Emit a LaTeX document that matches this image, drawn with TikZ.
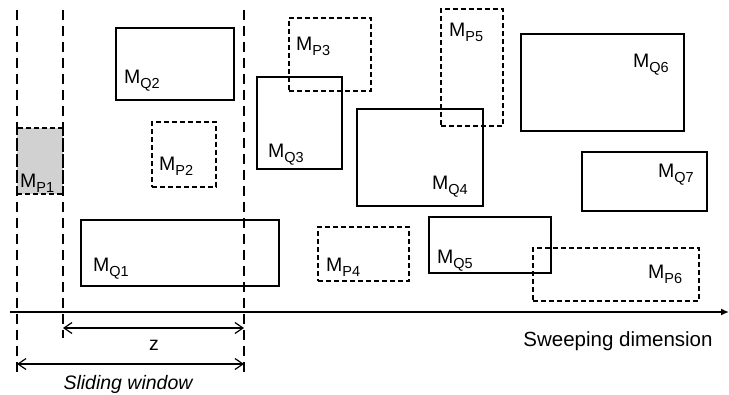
\documentclass[tikz,border=0pt]{standalone}
\usepackage{fontspec}
\setmainfont{Liberation Sans}
\usetikzlibrary{arrows.meta,fit}
\newcommand{\ML}[2]{M\raisebox{-5pt}{\fontsize{14.5}{14}\selectfont #1#2}}
\begin{document}
\begin{tikzpicture}[x=1pt,y=-1pt,
  qbox/.style={draw=black,line width=2.1pt,inner sep=0pt},
  pbox/.style={draw=black,line width=2.1pt,dash pattern=on 5pt off 3pt,inner sep=0pt},
  lbl/.style={anchor=base west,inner sep=0pt,font=\fontsize{19.5}{21}\selectfont},
  wline/.style={line width=1.2pt,dash pattern=on 10pt off 6pt},
  dim/.style={line width=1.2pt,{Straight Barb[length=8pt,width=11pt]}-{Straight Barb[length=8pt,width=11pt]}}]
\useasboundingbox (0,0) rectangle (729,394);
% boxes
\node[pbox,fill=black!18,fit={(17,128) (63,194)}] (P1) {};
\node[qbox,fit={(116,28) (234,100)}] (Q2) {};
\node[pbox,fit={(152,122) (216,187)}] (P2) {};
\node[qbox,fit={(81,220) (279,286)}] (Q1) {};
\node[qbox,fit={(257,77) (342,169)}] (Q3) {};
\node[pbox,fit={(289,18) (371,91)}] (P3) {};
\node[qbox,fit={(357,109) (483,206)}] (Q4) {};
\node[pbox,fit={(441,9) (503,126)}] (P5) {};
\node[pbox,fit={(318,227) (409,281)}] (P4) {};
\node[qbox,fit={(429,217) (551,273)}] (Q5) {};
\node[pbox,fit={(533,248) (699,301)}] (P6) {};
\node[qbox,fit={(521,34) (684,131)}] (Q6) {};
\node[qbox,fit={(582,152) (707,211)}] (Q7) {};
% labels
\node[lbl] (lP1) at (20,187) {\ML{P}{1}};
\node[lbl] (lQ2) at (124,83) {\ML{Q}{2}};
\node[lbl] (lP2) at (159,170) {\ML{P}{2}};
\node[lbl] (lQ1) at (93,271) {\ML{Q}{1}};
\node[lbl] (lP3) at (296,50) {\ML{P}{3}};
\node[lbl] (lQ3) at (268,157) {\ML{Q}{3}};
\node[lbl] (lP5) at (449,36) {\ML{P}{5}};
\node[lbl] (lQ4) at (432,189) {\ML{Q}{4}};
\node[lbl] (lP4) at (326,271) {\ML{P}{4}};
\node[lbl] (lQ5) at (437,263) {\ML{Q}{5}};
\node[lbl] (lQ6) at (633,67) {\ML{Q}{6}};
\node[lbl] (lQ7) at (658,177) {\ML{Q}{7}};
\node[lbl] (lP6) at (648,278) {\ML{P}{6}};
% window lines
\coordinate (w1t) at (17,10);  \coordinate (w1b) at (17,372);
\coordinate (w2t) at (63,10);  \coordinate (w2b) at (63,338);
\coordinate (w3t) at (244,10); \coordinate (w3b) at (244,372);
\draw[wline] (w1t) -- (w1b);
\draw[wline] (w2t) -- (w2b);
\draw[wline] (w3t) -- (w3b);
% axis
\coordinate (a0) at (10,312); \coordinate (a1) at (729,312);
\draw[line width=2pt,-{Latex[length=8pt,width=7pt]}] (a0) -- (a1);
\node[anchor=base,inner sep=0pt,font=\fontsize{20.5}{22}\selectfont] (sweep) at (618,346) {Sweeping dimension};
% dimensions
\coordinate (z0) at (63,328); \coordinate (z1) at (244,328);
\draw[dim] (z0) -- (z1);
\node[anchor=base,inner sep=0pt,font=\fontsize{19.5}{21}\selectfont] (zl) at (154,350) {z};
\coordinate (s0) at (17,364); \coordinate (s1) at (244,364);
\draw[dim] (s0) -- (s1);
\node[anchor=base,inner sep=0pt,font=\fontsize{19.5}{21}\selectfont\itshape] (sw) at (128,389) {Sliding window};
\end{tikzpicture}
\end{document}
